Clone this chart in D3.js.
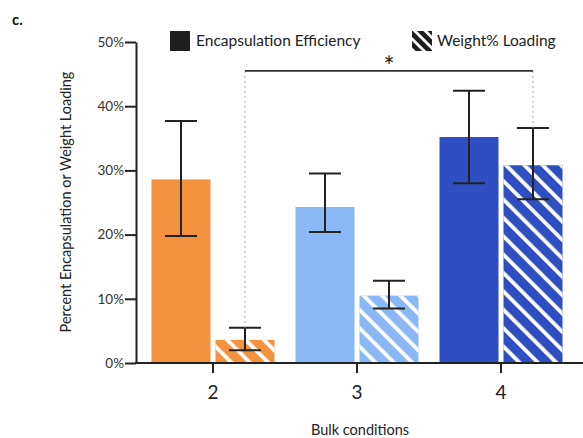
<!DOCTYPE html>
<html>
<head>
<meta charset="utf-8">
<script src="https://cdn.jsdelivr.net/npm/d3@7"></script>
<style>
  body { margin: 0; background: #fff; }
  svg { font-family: Lato, 'Open Sans', sans-serif; }
  .tick text { font-family: Lato, sans-serif; }
</style>
</head>
<body>
<svg width="583" height="438"></svg>
<script>
// values (fractions)
const conditions = ['2', '3', '4'];
const seriesKeys = ['Encapsulation Efficiency', 'Weight% Loading'];
const efficiency = [0.286, 0.243, 0.352];
const efficiencyErrLow = [0.198, 0.204, 0.280];
const efficiencyErrHigh = [0.377, 0.295, 0.424];
const loading = [0.036, 0.105, 0.308];
const loadingErrLow = [0.020, 0.085, 0.255];
const loadingErrHigh = [0.055, 0.128, 0.366];
const barColors = ['#f5923e', '#8ab8f5', '#2e4fc2'];
const yTicks = [0, 0.1, 0.2, 0.3, 0.4, 0.5];
const sigLevel = 0.455;

const rows = [];
conditions.forEach((c, i) => {
  rows.push({ cond: c, key: seriesKeys[0], value: efficiency[i], lo: efficiencyErrLow[i], hi: efficiencyErrHigh[i], color: barColors[i] });
  rows.push({ cond: c, key: seriesKeys[1], value: loading[i], lo: loadingErrLow[i], hi: loadingErrHigh[i], color: barColors[i] });
});

const svg = d3.select('svg');
const axisX = 136;   // y axis position
const plotRight = 583;

const y = d3.scaleLinear().domain([0, 0.5]).range([363, 42]);
const x = d3.scaleBand().domain(conditions).range([151.5, 562.5]).paddingInner(0.146).paddingOuter(0);
const xInner = d3.scaleBand().domain(seriesKeys).range([0, x.bandwidth()]).paddingInner(0.078);

// hatch patterns
const defs = svg.append('defs');
defs.append('pattern')
  .attr('id', 'hatch')
  .attr('patternUnits', 'userSpaceOnUse')
  .attr('width', 13).attr('height', 13)
  .attr('patternTransform', 'rotate(-45)')
  .append('rect')
  .attr('x', 0).attr('y', 0)
  .attr('width', 3.8).attr('height', 13)
  .attr('fill', '#fff');

const legHatch = defs.append('pattern')
  .attr('id', 'hatchLegend')
  .attr('patternUnits', 'userSpaceOnUse')
  .attr('width', 7.5).attr('height', 7.5)
  .attr('patternTransform', 'rotate(-45)');
legHatch.append('rect').attr('width', 7.5).attr('height', 7.5).attr('fill', '#1e1e1e');
legHatch.append('rect').attr('width', 2.8).attr('height', 7.5).attr('fill', '#fff');

// bars
const bars = svg.append('g')
  .selectAll('g')
  .data(rows)
  .enter()
  .append('g')
  .attr('transform', (d) => `translate(${x(d.cond) + xInner(d.key)},0)`);

bars.append('rect')
  .attr('y', (d) => y(d.value))
  .attr('width', xInner.bandwidth())
  .attr('height', (d) => y(0) - y(d.value))
  .attr('fill', (d) => d.color);

bars.filter((d) => d.key === seriesKeys[1])
  .append('rect')
  .attr('y', (d) => y(d.value))
  .attr('width', xInner.bandwidth())
  .attr('height', (d) => y(0) - y(d.value))
  .attr('fill', 'url(#hatch)');

// significance bracket + dotted drops
const left = rows[1];
const right = rows[5];
const cx = (d) => x(d.cond) + xInner(d.key) + xInner.bandwidth() / 2;

svg.append('g')
  .selectAll('line')
  .data([left, right])
  .enter()
  .append('line')
  .attr('x1', cx).attr('x2', cx)
  .attr('y1', y(sigLevel))
  .attr('y2', (d) => y(d.hi))
  .attr('stroke', '#9ea4c4')
  .attr('stroke-width', 1)
  .attr('stroke-dasharray', '2,3');

svg.append('line')
  .attr('x1', cx(left)).attr('x2', cx(right))
  .attr('y1', y(sigLevel)).attr('y2', y(sigLevel))
  .attr('stroke', '#333')
  .attr('stroke-width', 1.6);

svg.append('text')
  .attr('x', (cx(left) + cx(right)) / 2)
  .attr('y', y(sigLevel) + 5)
  .attr('text-anchor', 'middle')
  .attr('font-size', 26)
  .attr('fill', '#222')
  .text('*');

// error bars
const capW = 32;
const err = bars.append('g')
  .attr('transform', `translate(${xInner.bandwidth() / 2},0)`)
  .attr('stroke', '#222')
  .attr('stroke-width', 2);
err.append('line')
  .attr('y1', (d) => y(d.lo)).attr('y2', (d) => y(d.hi));
err.append('line')
  .attr('x1', -capW / 2).attr('x2', capW / 2)
  .attr('y1', (d) => y(d.lo)).attr('y2', (d) => y(d.lo));
err.append('line')
  .attr('x1', -capW / 2).attr('x2', capW / 2)
  .attr('y1', (d) => y(d.hi)).attr('y2', (d) => y(d.hi));

// y axis
const yAxis = svg.append('g')
  .attr('transform', `translate(${axisX},0)`)
  .call(d3.axisLeft(y).tickValues(yTicks).tickFormat(d3.format('.0%')).tickSize(11).tickSizeOuter(0).tickPadding(1));
yAxis.selectAll('line, path').attr('stroke', '#222').attr('stroke-width', 2);
yAxis.selectAll('text').attr('font-size', 13.5).attr('fill', '#333');

// x axis
const xAxis = svg.append('g')
  .attr('transform', `translate(0,${y(0)})`)
  .call(d3.axisBottom(x).tickSize(10).tickPadding(13));
xAxis.select('.domain').remove();
xAxis.append('line')
  .attr('x1', axisX - 1).attr('x2', plotRight)
  .attr('stroke', '#222').attr('stroke-width', 2);
xAxis.selectAll('.tick line').attr('stroke', '#222').attr('stroke-width', 2);
xAxis.selectAll('text').attr('font-size', 19).attr('fill', '#222');

// axis titles
svg.append('text')
  .attr('transform', 'translate(71,202) rotate(-90)')
  .attr('text-anchor', 'middle')
  .attr('font-size', 14.5)
  .attr('fill', '#222')
  .text('Percent Encapsulation or Weight Loading');

svg.append('text')
  .attr('x', 360)
  .attr('y', 435)
  .attr('text-anchor', 'middle')
  .attr('font-size', 14.5)
  .attr('fill', '#222')
  .text('Bulk conditions');

// panel letter
svg.append('text')
  .attr('x', 12).attr('y', 25)
  .attr('font-size', 15)
  .attr('font-weight', 'bold')
  .attr('fill', '#111')
  .text('c.');

// legend
const legend = svg.append('g');
legend.append('rect')
  .attr('x', 170).attr('y', 31).attr('width', 20).attr('height', 20)
  .attr('fill', '#1e1e1e');
legend.append('text')
  .attr('x', 196).attr('y', 46)
  .attr('font-size', 15.5).attr('fill', '#222')
  .text(seriesKeys[0]);
legend.append('rect')
  .attr('x', 412).attr('y', 31).attr('width', 20).attr('height', 20)
  .attr('fill', 'url(#hatchLegend)');
legend.append('text')
  .attr('x', 437).attr('y', 46)
  .attr('font-size', 15.5).attr('fill', '#222')
  .text(seriesKeys[1]);
</script>
</body>
</html>
